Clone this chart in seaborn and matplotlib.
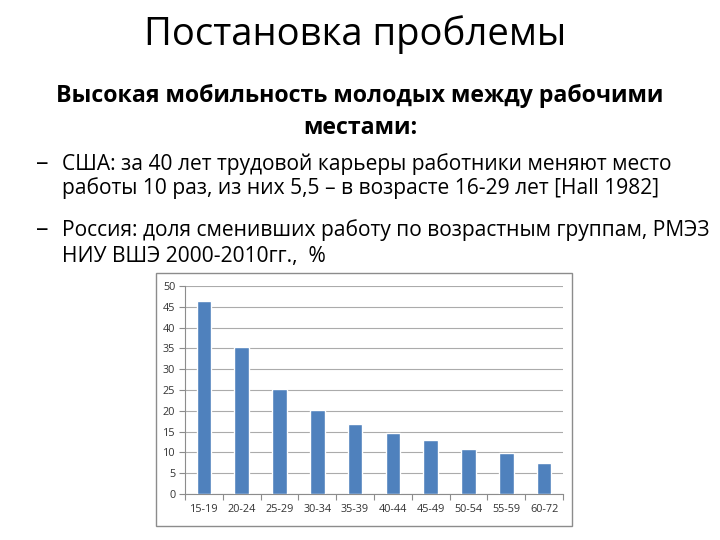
import matplotlib
matplotlib.use("Agg")
import matplotlib.pyplot as plt
import seaborn as sns
import pandas as pd
from matplotlib.patches import Rectangle

# ---- data ----
age_groups = ["15-19", "20-24", "25-29", "30-34", "35-39",
              "40-44", "45-49", "50-54", "55-59", "60-72"]
share_changed = [46.3, 35.4, 25.3, 20.2, 16.9, 14.7, 12.9, 10.9, 9.8, 7.5]
y_ticks = [0, 5, 10, 15, 20, 25, 30, 35, 40, 45, 50]

title_text = "Постановка проблемы"
subtitle_lines = ["Высокая мобильность молодых между рабочими", "местами:"]
bullet1_lines = ["США: за 40 лет трудовой карьеры работники меняют место",
                 "работы 10 раз, из них 5,5 – в возрасте 16-29 лет [Hall 1982]"]
bullet2_lines = ["Россия: доля сменивших работу по возрастным группам, РМЭЗ",
                 "НИУ ВШЭ 2000-2010гг.,  %"]

df = pd.DataFrame({"age": age_groups, "share": share_changed})

sns.set_theme(style="white")
plt.rcParams["font.family"] = ["Open Sans", "DejaVu Sans"]

W, H = 720, 540
fig = plt.figure(figsize=(7.2, 5.4), dpi=100)
fig.patch.set_facecolor("white")

def fx(px):
    return px / W

def fy(py):
    return 1 - py / H

# slide texts
fig.text(fx(355), fy(45), title_text, ha="center", va="baseline",
         fontsize=27.5, color="black")
fig.text(fx(360), fy(102), subtitle_lines[0], ha="center", va="baseline",
         fontsize=16.7, fontweight="bold", color="black")
fig.text(fx(360), fy(134), subtitle_lines[1], ha="center", va="baseline",
         fontsize=16.7, fontweight="bold", color="black")

def bullet(lines, y0, y1):
    fig.text(fx(36), fy(y0), "–", ha="left", va="baseline", fontsize=18, color="black")
    fig.text(fx(62), fy(y0), lines[0], ha="left", va="baseline", fontsize=15.1, color="black")
    fig.text(fx(62), fy(y1), lines[1], ha="left", va="baseline", fontsize=15.1, color="black")

bullet(bullet1_lines, 170, 194)
bullet(bullet2_lines, 236, 262)

# chart frame
frame = Rectangle((fx(156), fy(526)), fx(572) - fx(156), fy(273) - fy(526),
                  transform=fig.transFigure, facecolor="white",
                  edgecolor="#8C8C8C", linewidth=1.0, zorder=-1)
fig.patches.append(frame)

ax = fig.add_axes([fx(185), fy(494), fx(563) - fx(185), fy(286) - fy(494)])
ax.set_zorder(2)
ax.set_facecolor("none")
sns.barplot(data=df, x="age", y="share", color="#4F81BD", width=0.39,
            saturation=1, ax=ax, zorder=3)

ax.set_xlim(-0.5, len(age_groups) - 0.5)
ax.set_ylim(0, 50)
ax.set_yticks(y_ticks)
ax.set_yticklabels([str(t) for t in y_ticks])
ax.set_xlabel("")
ax.set_ylabel("")
ax.yaxis.grid(True, color="#ABABAB", linewidth=0.8, zorder=0)
ax.set_axisbelow(True)
for s in ["top", "right"]:
    ax.spines[s].set_visible(False)
for s in ["left", "bottom"]:
    ax.spines[s].set_color("#8C8C8C")
    ax.spines[s].set_linewidth(0.8)

ax.set_xticks([i - 0.5 for i in range(len(age_groups) + 1)], minor=True)
ax.tick_params(axis="x", which="major", length=0, labelsize=7.8,
               colors="#333333", pad=7)
ax.tick_params(axis="x", which="minor", length=4, color="#8C8C8C",
               width=0.8, direction="out", bottom=True)
ax.tick_params(axis="y", which="major", length=4, color="#8C8C8C",
               width=0.8, direction="out", left=True, labelsize=7.8,
               labelcolor="#333333", pad=3)

fig.savefig("out.png", dpi=100, facecolor="white")
